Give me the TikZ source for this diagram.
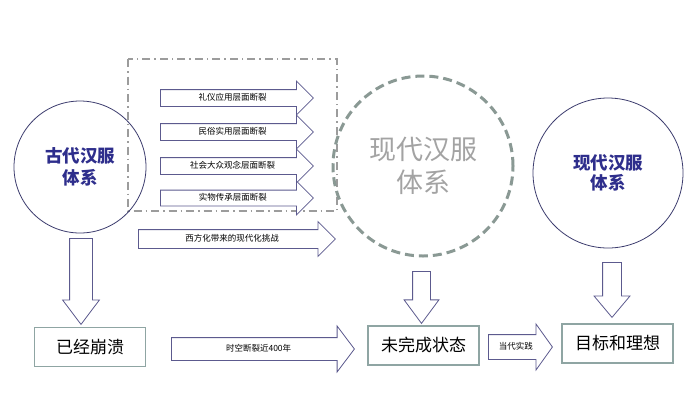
\documentclass[tikz,border=0pt]{standalone}
\usepackage{fontspec}
\setmainfont{Noto Sans CJK SC}
\usetikzlibrary{shapes.arrows, positioning}

\definecolor{navy}{HTML}{2E2E8C}
\definecolor{arrowline}{HTML}{5C5A8E}
\definecolor{circline}{HTML}{3C3C6E}
\definecolor{boxline}{HTML}{8FA5A3}
\definecolor{dashgray}{HTML}{8A9994}
\definecolor{framegray}{HTML}{9C9C9C}
\definecolor{ghost}{HTML}{A3A3A3}

\begin{document}
\begin{tikzpicture}[x=1pt, y=-1pt,
  circ/.style={circle, draw=circline, line width=0.8pt, align=center, inner sep=0pt},
  stagebox/.style={draw=boxline, line width=1.2pt, minimum width=111pt,
                   minimum height=39pt, inner sep=0pt, font=\fontsize{17}{20}\selectfont},
  fatarrow/.style={single arrow, draw=arrowline, fill=white, line width=0.8pt,
                   anchor=tail, minimum width=0pt, inner xsep=0pt,
                   single arrow head indent=0pt, text height=6pt, text depth=1pt,
                   font=\fontsize{8.5}{9}\selectfont},
  downarrow/.style={single arrow, draw=arrowline, fill=white, line width=0.8pt,
                    anchor=tail, rotate=-90, minimum width=0pt, inner xsep=0pt,
                    single arrow head indent=0pt}
]
  \useasboundingbox[fill=white] (0,0) rectangle (700,416);

  % fracture frame
  \draw[framegray, line width=1.2pt, dash pattern=on 8pt off 4pt on 1.5pt off 4pt]
    (128,59) rectangle (337,211);

  % circles
  \node[circ, minimum size=132pt, font=\fontsize{17.5}{22}\selectfont\bfseries,
        text=navy] (ancient) at (80,167) {古代汉服\\体系};
  \node[circ, draw=dashgray, line width=3pt, dash pattern=on 9pt off 5pt,
        minimum size=180pt, font=\fontsize{27}{33}\selectfont, text=ghost]
        (modern) at (423,166) {现代汉服\\体系};
  \node[circ, minimum size=150pt, font=\fontsize{17.5}{20}\selectfont\bfseries,
        text=navy] (ideal) at (608,173) {现代汉服\\体系};

  % fracture arrows
  \node[fatarrow, minimum height=153pt, inner ysep=4.5pt, single arrow head extend=8.5pt]
    (etiquette) at (160,98) {礼仪应用层面断裂};
  \node[fatarrow, minimum height=153pt, inner ysep=4.5pt, single arrow head extend=8.5pt]
    (custom) at (160,132) {民俗实用层面断裂};
  \node[fatarrow, minimum height=153pt, inner ysep=4.5pt, single arrow head extend=8.5pt]
    (concept) at (160,166) {社会大众观念层面断裂};
  \node[fatarrow, minimum height=153pt, inner ysep=4pt, single arrow head extend=9pt]
    (heritage) at (160,198) {实物传承层面断裂};
  \node[fatarrow, minimum height=197pt, inner ysep=5.5pt, single arrow head extend=8pt]
    (western) at (138,239) {西方化带来的现代化挑战};

  % stage boxes
  \node[stagebox] (collapsed) at (90,347) {已经崩溃};
  \node[stagebox] (unfinished) at (423.5,345.5) {未完成状态};
  \node[stagebox] (goal) at (617.5,343.5) {目标和理想};

  % bottom arrows
  \node[fatarrow, minimum height=183pt, inner ysep=7.5pt, single arrow head extend=11.5pt,
        single arrow tip angle=106] (gap) at (171,349) {时空断裂近400年};
  \node[fatarrow, minimum height=64pt, inner ysep=8.5pt, single arrow head extend=10.5pt,
        single arrow tip angle=109] (practice) at (488,347) {当代实践};

  % down arrows
  \node[downarrow, minimum height=86pt, inner ysep=11pt, single arrow head extend=7pt,
        single arrow tip angle=74] (fall) at (81,238) {};
  \node[downarrow, minimum height=52pt, inner ysep=8.5pt, single arrow head extend=8.5pt,
        single arrow tip angle=73] (stall) at (421.5,271) {};
  \node[downarrow, minimum height=55pt, inner ysep=9pt, single arrow head extend=8.5pt,
        single arrow tip angle=80] (aim) at (612,262) {};
\end{tikzpicture}
\end{document}
